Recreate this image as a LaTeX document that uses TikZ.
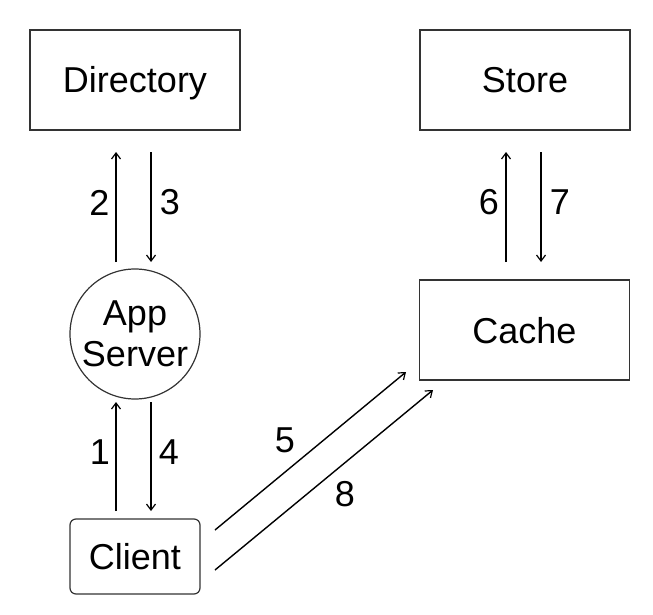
\documentclass[tikz,border=0pt]{standalone}
\usepackage{fontspec}
\setmainfont{Liberation Sans}
\usetikzlibrary{arrows.meta,calc}
\begin{document}
\begin{tikzpicture}[x=1pt,y=-1pt,
  every node/.style={font=\fontsize{36}{41}\selectfont, inner sep=0pt},
  boxnode/.style={draw=black!80, line width=1.2pt, minimum width=210pt, minimum height=100pt, text height=26pt, text depth=0pt},
  clientnode/.style={draw=black!80, line width=1.2pt, rounded corners=6pt, minimum width=130pt, minimum height=75pt, text height=26pt, text depth=0pt},
  servernode/.style={draw=black!80, line width=1.2pt, circle, minimum size=130pt, align=center},
  flow/.style={line width=1.4pt, -{Straight Barb[length=6pt,width=9pt,line width=1.2pt]}},
  numlabel/.style={}]
\useasboundingbox (0,0) rectangle (653,615);
\node[boxnode] (dir) at (135,80) {Directory};
\node[boxnode] (store) at (525,80) {Store};
\node[boxnode] (cache) at (524.5,330) {Cache};
\node[servernode] (app) at (135,334) {App\\Server};
\node[clientnode] (client) at (135,556.5) {Client};
% connector ends
\coordinate (a2s) at (116,262); \coordinate (a2e) at (116,152);
\coordinate (a3s) at (151,152); \coordinate (a3e) at (151,262);
\coordinate (a1s) at (116,511); \coordinate (a1e) at (116,402);
\coordinate (a4s) at (151,402); \coordinate (a4e) at (151,511);
\coordinate (a6s) at (506,262); \coordinate (a6e) at (506,152);
\coordinate (a7s) at (541,152); \coordinate (a7e) at (541,262);
\coordinate (a5s) at (215,530); \coordinate (a5e) at (406,372);
\coordinate (a8s) at (215,570); \coordinate (a8e) at (433,390);
\draw[flow] (a2s) -- (a2e);
\draw[flow] (a3s) -- (a3e);
\draw[flow] (a1s) -- (a1e);
\draw[flow] (a4s) -- (a4e);
\draw[flow] (a6s) -- (a6e);
\draw[flow] (a7s) -- (a7e);
\draw[flow] (a5s) -- (a5e);
\draw[flow] (a8s) -- (a8e);
\node[numlabel] (l2) at (99.5,202.5) {2};
\node[numlabel] (l3) at (170,202.5) {3};
\node[numlabel] (l1) at (100,452.5) {1};
\node[numlabel] (l4) at (169,452.5) {4};
\node[numlabel] (l6) at (489,202.5) {6};
\node[numlabel] (l7) at (560,202.5) {7};
\node[numlabel] (l5) at (285,440.5) {5};
\node[numlabel] (l8) at (345,494.5) {8};
\end{tikzpicture}
\end{document}
